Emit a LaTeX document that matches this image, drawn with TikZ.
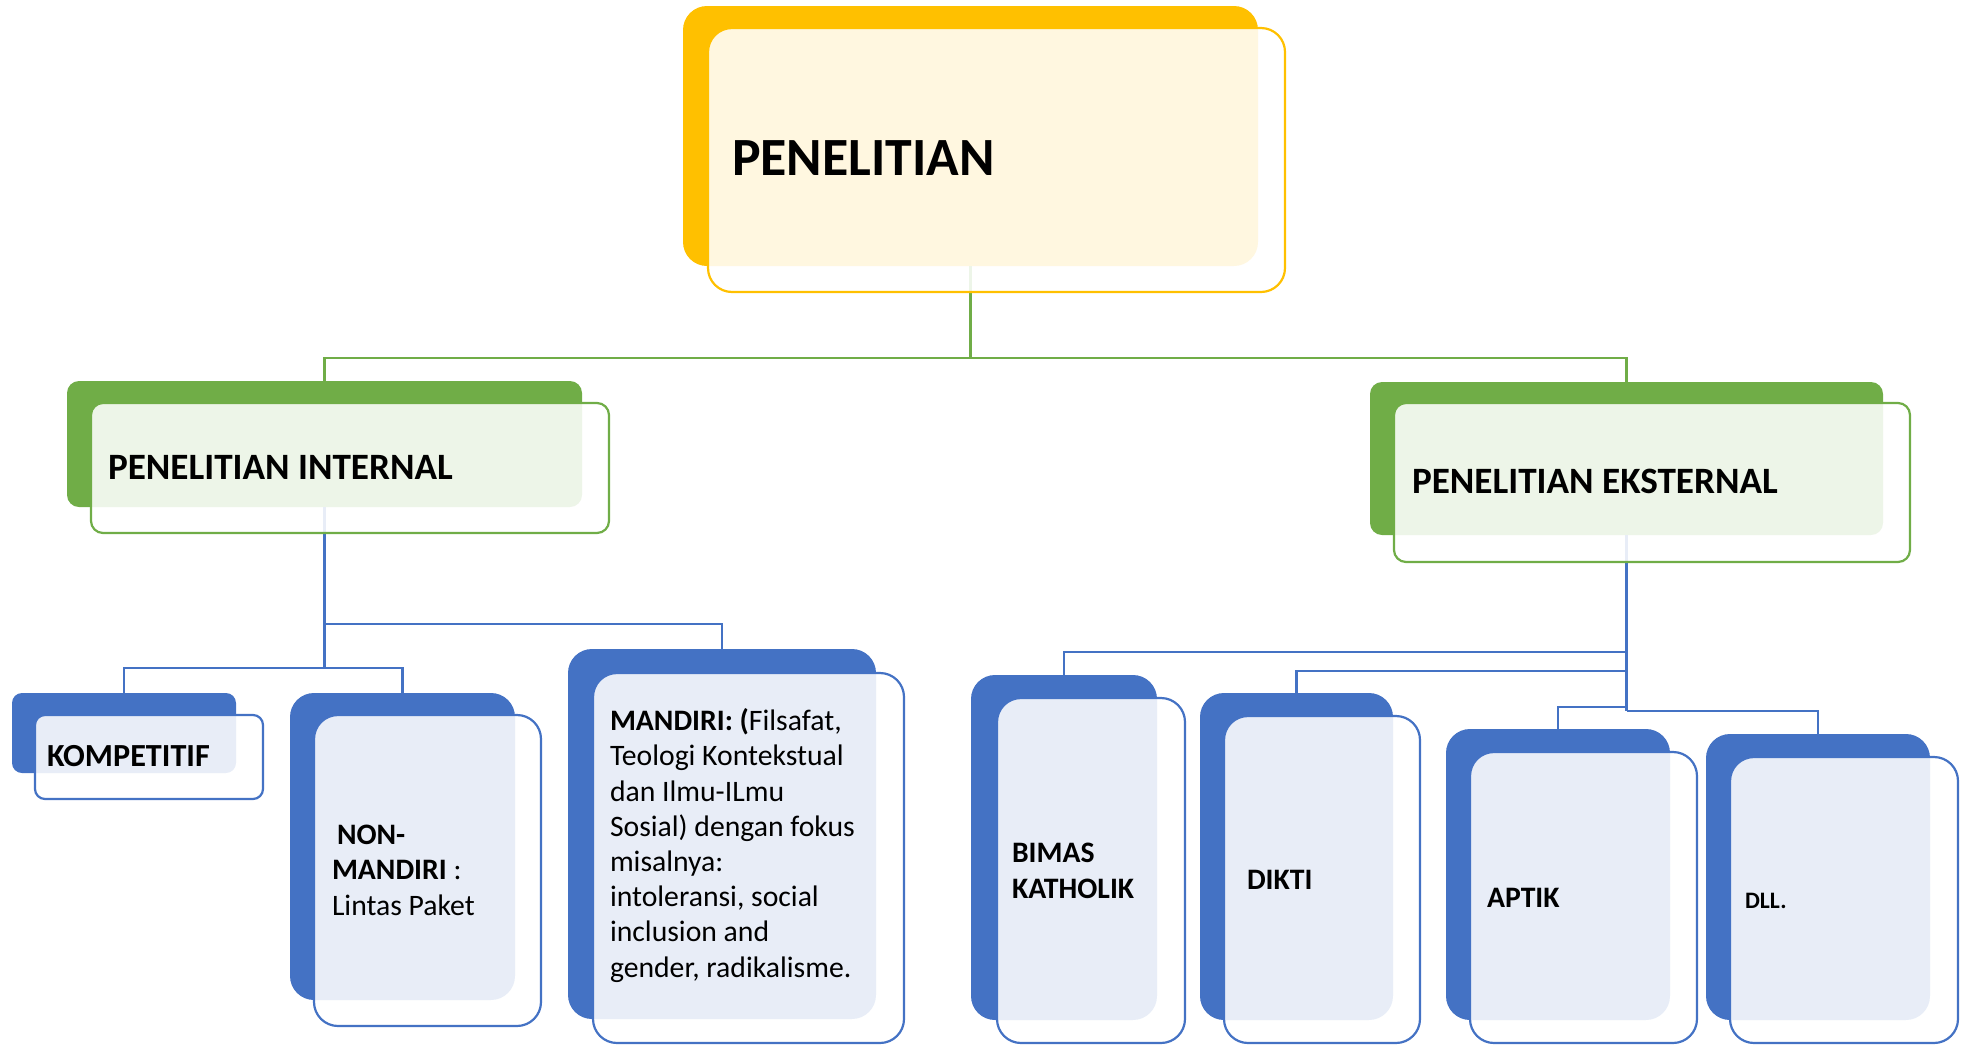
\documentclass[tikz,border=0pt]{standalone}
\usepackage{fontspec}
\setmainfont{Carlito}
\definecolor{yel}{HTML}{FFC000}
\definecolor{grn}{HTML}{70AD47}
\definecolor{blu}{HTML}{4472C4}
\begin{document}
\begin{tikzpicture}[x=0.5pt,y=-0.5pt,
  sz/.style 2 args={minimum width=#1*0.5pt, minimum height=#2*0.5pt},
  back/.style={draw=none, fill=#1, inner sep=0pt, outer sep=0pt},
  front/.style={draw=#1, line width=1.1pt, fill=white, fill opacity=0.88, draw opacity=1, inner sep=0pt, outer sep=0pt},
  lbl/.style={anchor=base west, inner sep=0pt, outer sep=0pt, align=left, text=black},
  conn/.style={draw=#1, line width=1.15pt},
  body/.style={font=\fontsize{14.85pt}{17.6pt}\selectfont},
  bodyb/.style={font=\fontsize{14.85pt}{17.6pt}\selectfont\bfseries},
]
\useasboundingbox (0,0) rectangle (1966,1045);
% ---- back boxes
\node[back=yel, sz={575}{260}, rounded corners=12pt] (top) at (970.5,136) {};
\node[back=grn, sz={515}{126}, rounded corners=6pt] (int) at (324.5,444) {};
\node[back=grn, sz={513}{153}, rounded corners=6pt] (eks) at (1626.5,458.5) {};
\node[back=blu, sz={224}{80}, rounded corners=5pt] (komp) at (124,733) {};
\node[back=blu, sz={225}{307}, rounded corners=12pt] (non) at (402.5,846.5) {};
\node[back=blu, sz={308}{370}, rounded corners=12pt] (man) at (722,834) {};
\node[back=blu, sz={186}{345}, rounded corners=12pt] (bim) at (1064,847.5) {};
\node[back=blu, sz={193}{327}, rounded corners=12pt] (dik) at (1296.5,856.5) {};
\node[back=blu, sz={224}{291}, rounded corners=12pt] (apt) at (1558,874.5) {};
\node[back=blu, sz={224}{286}, rounded corners=12pt] (dll) at (1818,877) {};
% ---- bus levels
\coordinate (yT) at (0,358);
\coordinate (yA) at (0,624);
\coordinate (yB) at (0,668);
\coordinate (y1) at (0,652);
\coordinate (y2) at (0,671);
\coordinate (y3) at (0,707);
\coordinate (y4) at (0,711);
% ---- connectors
\draw[conn=grn] (top.south) -- (top.south |- yT);
\draw[conn=grn] (int.north) |- (top.south |- yT) -| (eks.north);
\draw[conn=blu] (int.south) -- (int.south |- yB);
\draw[conn=blu] (int.south |- yA) -| (man.north);
\draw[conn=blu] (komp.north) |- (int.south |- yB) -| (non.north);
\draw[conn=blu] (eks.south) -- (eks.south |- y4);
\draw[conn=blu] (bim.north) |- (eks.south |- y1);
\draw[conn=blu] (dik.north) |- (eks.south |- y2);
\draw[conn=blu] (apt.north) |- (eks.south |- y3);
\draw[conn=blu] (eks.south |- y4) -| (dll.north);
% ---- front boxes
\node[front=yel, sz={577}{264}, rounded corners=12pt] (topf) at (996.5,160) {};
\node[front=grn, sz={518}{130}, rounded corners=6pt] (intf) at (350,468) {};
\node[front=grn, sz={516}{159}, rounded corners=6pt] (eksf) at (1652,482.5) {};
\node[front=blu, sz={228}{84}, rounded corners=5pt] (kompf) at (149,757) {};
\node[front=blu, sz={227}{311}, rounded corners=12pt] (nonf) at (427.5,870.5) {};
\node[front=blu, sz={311}{370}, rounded corners=12pt] (manf) at (748.5,858) {};
\node[front=blu, sz={188}{345}, rounded corners=12pt] (bimf) at (1091,870.5) {};
\node[front=blu, sz={196}{327}, rounded corners=12pt] (dikf) at (1322,879.5) {};
\node[front=blu, sz={227}{291}, rounded corners=12pt] (aptf) at (1583.5,897.5) {};
\node[front=blu, sz={228}{286}, rounded corners=12pt] (dllf) at (1844,900) {};
% ---- texts (multi-line: anchor is the last line's baseline)
\node[lbl, font=\fontsize{26.9pt}{32pt}\selectfont\bfseries] (topt) at (732,175) {PENELITIAN};
\node[lbl, font=\fontsize{18.6pt}{22pt}\selectfont\bfseries] (intt) at (108,479) {PENELITIAN INTERNAL};
\node[lbl, font=\fontsize{18.6pt}{22pt}\selectfont\bfseries] (ekst) at (1412,493) {PENELITIAN EKSTERNAL};
\node[lbl, font=\fontsize{16.1pt}{19pt}\selectfont\bfseries] (kompt) at (47,766) {KOMPETITIF};
\node[lbl, body] (nont) at (332,915) {\hspace*{2.5pt}\textbf{NON-}\\\textbf{MANDIRI} :\\Lintas Paket};
\node[lbl, body] (mant) at (610,977) {\textbf{MANDIRI: (}Filsafat,\\Teologi Kontekstual\\dan Ilmu-ILmu\\Sosial) dengan fokus\\misalnya:\\intoleransi, social\\inclusion and\\gender, radikalisme.};
\node[lbl, bodyb] (bimt) at (1012,898) {BIMAS\\KATHOLIK};
\node[lbl, bodyb] (dikt) at (1247,889) {DIKTI};
\node[lbl, bodyb] (aptt) at (1487,907) {APTIK};
\node[lbl, font=\fontsize{11.8pt}{14pt}\selectfont\bfseries] (dllt) at (1745,908) {DLL.};
\end{tikzpicture}
\end{document}
